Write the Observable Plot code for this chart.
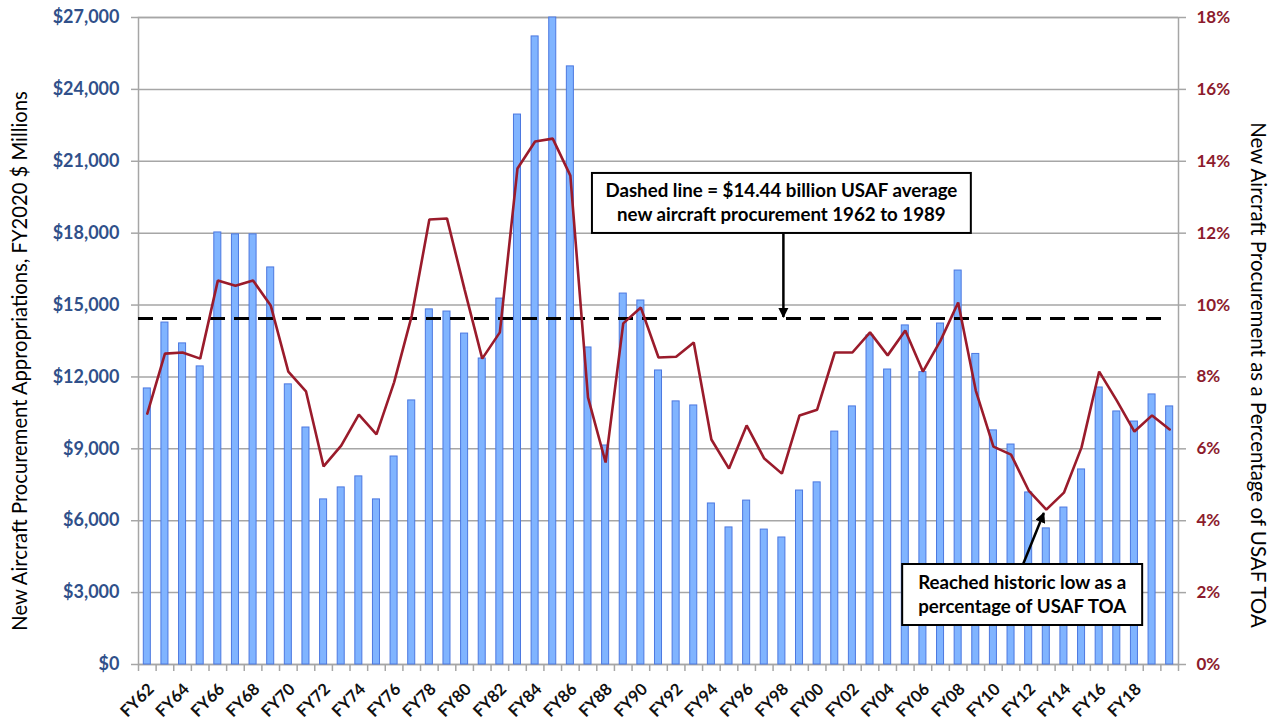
<!DOCTYPE html>
<html>
<head>
<meta charset="utf-8">
<script src="https://cdn.jsdelivr.net/npm/d3@7"></script>
<script src="https://cdn.jsdelivr.net/npm/@observablehq/plot@0.6"></script>
<style>
  html, body { margin: 0; padding: 0; background: #ffffff; }
  #chart svg { display: block; }
</style>
</head>
<body>
<div id="chart"></div>
<script>
// ---------- data ----------
const years = ["FY62","FY63","FY64","FY65","FY66","FY67","FY68","FY69","FY70","FY71",
  "FY72","FY73","FY74","FY75","FY76","FY77","FY78","FY79","FY80","FY81",
  "FY82","FY83","FY84","FY85","FY86","FY87","FY88","FY89","FY90","FY91",
  "FY92","FY93","FY94","FY95","FY96","FY97","FY98","FY99","FY00","FY01",
  "FY02","FY03","FY04","FY05","FY06","FY07","FY08","FY09","FY10","FY11",
  "FY12","FY13","FY14","FY15","FY16","FY17","FY18","FY19","FY20"];

// New aircraft procurement appropriations, FY2020 $ millions
const procurement = [11520,14270,13400,12440,18030,17950,17950,16570,11690,9890,
  6890,7390,7850,6890,8680,11020,14820,14730,13810,12770,
  15270,22950,26210,27000,24960,13230,9140,15480,15190,12270,
  10980,10810,6720,5720,6840,5630,5300,7260,7600,9720,
  10770,13730,12310,14150,12200,14230,16440,12960,9770,9180,
  7180,5680,6550,8140,11560,10560,10140,11270,10770];

// New aircraft procurement as % of USAF TOA
const pctTOA = [6.98,8.65,8.68,8.51,10.68,10.54,10.68,9.99,8.15,7.60,
  5.51,6.09,6.95,6.40,7.85,9.70,12.38,12.41,10.43,8.51,
  9.24,13.80,14.55,14.63,13.60,7.43,5.62,9.49,9.93,8.54,
  8.56,8.96,6.26,5.45,6.65,5.73,5.31,6.93,7.09,8.68,
  8.68,9.24,8.60,9.29,8.15,9.01,10.07,7.62,6.06,5.84,
  4.84,4.31,4.78,6.04,8.15,7.34,6.48,6.93,6.54];

const leftTicks = [0,3000,6000,9000,12000,15000,18000,21000,24000,27000];
const rightTicks = [0,2,4,6,8,10,12,14,16,18];
const xLabels = ["FY62","FY64","FY66","FY68","FY70","FY72","FY74","FY76","FY78","FY80",
  "FY82","FY84","FY86","FY88","FY90","FY92","FY94","FY96","FY98","FY00",
  "FY02","FY04","FY06","FY08","FY10","FY12","FY14","FY16","FY18"];

const averageProcurement = 14440; // 1962-1989 average, $M

const leftTitle = "New Aircraft Procurement Appropriations, FY2020 $ Millions";
const rightTitle = "New Aircraft Procurement as a Percentage of USAF TOA";

const note1 = ["Dashed line = $14.44 billion USAF average", "new aircraft procurement 1962 to 1989"];
const note2 = ["Reached historic low as a", "percentage of USAF TOA"];

// ---------- build ----------
const pctMax = 18, dollarMax = 27000;
const pctToDollar = dollarMax / pctMax;
const table = years.map((fy, i) => ({fy, value: procurement[i], pct: pctTOA[i]}));

const W = 1276, H = 723;
const mL = 138, mR = 98, mT = 17, mB = 59;
const bw = (W - mL - mR) / years.length;
const FONT = "Lato, 'Open Sans', sans-serif";
const blueText = "#30508a";
const redText = "#8c1b2c";
const gridColor = "#a6a6a6";

const plot = Plot.plot({
  width: W, height: H,
  marginLeft: mL, marginRight: mR, marginTop: mT, marginBottom: mB,
  style: {fontFamily: FONT, background: "#ffffff", overflow: "visible"},
  x: {type: "band", domain: years, paddingInner: 0, paddingOuter: 0, label: null},
  y: {domain: [0, dollarMax], label: null},
  marks: [
    Plot.ruleY(leftTicks, {stroke: gridColor, strokeWidth: 1.5}),
    Plot.frame({stroke: gridColor, strokeWidth: 1.5}),
    Plot.barY(table, {x: "fy", y: "value", fill: "#80b4ff", stroke: "#4c78e0", strokeWidth: 1,
      insetLeft: 5.3, insetRight: 5.3}),
    Plot.ruleY([averageProcurement], {stroke: "#000", strokeWidth: 3, strokeDasharray: "15,9", insetRight: 9}),
    Plot.line(table, {x: "fy", y: d => d.pct * pctToDollar, stroke: "#9a1b2b", strokeWidth: 2.6,
      strokeLinejoin: "miter"}),
    // x tick marks at band boundaries
    Plot.ruleX(years, {x: d => d, y1: 0, y2: 0, insetBottom: -7, dx: -bw / 2, stroke: gridColor, strokeWidth: 1.5}),
    Plot.ruleX([years[years.length - 1]], {x: d => d, y1: 0, y2: 0, insetBottom: -7, dx: bw / 2, stroke: gridColor, strokeWidth: 1.5}),
    // axes
    Plot.axisY(leftTicks, {anchor: "left", tickSize: 7, tickPadding: 12, stroke: gridColor, strokeWidth: 1.5,
      fill: blueText, fontWeight: "bold", fontSize: 18, tickFormat: d => "$" + d3.format(",")(d), label: null}),
    Plot.axisY(rightTicks.map(p => p * pctToDollar), {anchor: "right", tickSize: 7, tickPadding: 11, stroke: gridColor, strokeWidth: 1.5,
      fill: redText, fontWeight: "bold", fontSize: 17, tickFormat: d => Math.round(d / pctToDollar) + "%", label: null}),
    Plot.axisX(xLabels, {anchor: "bottom", tickSize: 0, tickPadding: 22, tickRotate: -45, dx: 4,
      fill: "#111", fontWeight: "bold", fontSize: 16.5, label: null}),
    // axis titles
    Plot.text([leftTitle], {frameAnchor: "left", textAnchor: "middle", text: d => d, rotate: -90, dx: -118, dy: 20,
      fontSize: 20.2, fill: "#000"}),
    Plot.text([rightTitle], {frameAnchor: "right", textAnchor: "middle", text: d => d, rotate: 90, dx: 79, dy: 34,
      fontSize: 20.5, fill: "#000"})
  ]
});

document.getElementById("chart").appendChild(plot);

// ---------- annotations (positioned through the plot's scales) ----------
const sx = plot.scale("x"), sy = plot.scale("y");
const cx = fy => sx.apply(fy) + sx.bandwidth / 2;
const svg = d3.select(plot);

const defs = svg.append("defs");
defs.append("marker").attr("id", "ah").attr("viewBox", "0 0 10 10")
  .attr("refX", 9).attr("refY", 5).attr("markerWidth", 4.2).attr("markerHeight", 4.2)
  .attr("markerUnits", "strokeWidth").attr("orient", "auto")
  .append("path").attr("d", "M0,0 L10,5 L0,10 z").attr("fill", "#000");

function note(lines, centerX, centerY, fontSize, padX, boxH, lineGap) {
  const g = svg.append("g");
  const rect = g.append("rect");
  const t = g.append("text").attr("font-family", FONT).attr("font-weight", "bold")
    .attr("font-size", fontSize).attr("text-anchor", "middle").attr("fill", "#000");
  lines.forEach((ln, i) => {
    t.append("tspan").attr("x", centerX).attr("y", centerY + (i - (lines.length - 1) / 2) * lineGap)
      .attr("dy", "0.35em").text(ln);
  });
  const bb = t.node().getBBox();
  const w = bb.width + 2 * padX;
  rect.attr("x", centerX - w / 2).attr("y", centerY - boxH / 2).attr("width", w).attr("height", boxH)
    .attr("fill", "#fff").attr("stroke", "#000").attr("stroke-width", 2);
  return {top: centerY - boxH / 2, bottom: centerY + boxH / 2};
}

function arrow(x1, y1, x2, y2) {
  svg.append("line").attr("x1", x1).attr("y1", y1).attr("x2", x2).attr("y2", y2)
    .attr("stroke", "#000").attr("stroke-width", 2.5).attr("marker-end", "url(#ah)");
}

// note 1 and its arrow to the dashed average line
const n1x = cx("FY98"), n1y = sy.apply(19240);
const b1 = note(note1, n1x, n1y, 18.7, 13.5, 60, 24);
arrow(n1x + 2, b1.bottom, n1x + 2, sy.apply(averageProcurement) - 1);

// note 2 and its arrow to the FY13 low point
const lowIdx = pctTOA.indexOf(d3.min(pctTOA));
const n2x = cx("FY12") - 6, n2y = sy.apply(2900);
const b2 = note(note2, n2x, n2y, 18.7, 15.5, 61, 24);
arrow(n2x + 1, b2.top, cx(years[lowIdx]) - 2, sy.apply(pctTOA[lowIdx] * pctToDollar) + 4);
</script>
</body>
</html>
